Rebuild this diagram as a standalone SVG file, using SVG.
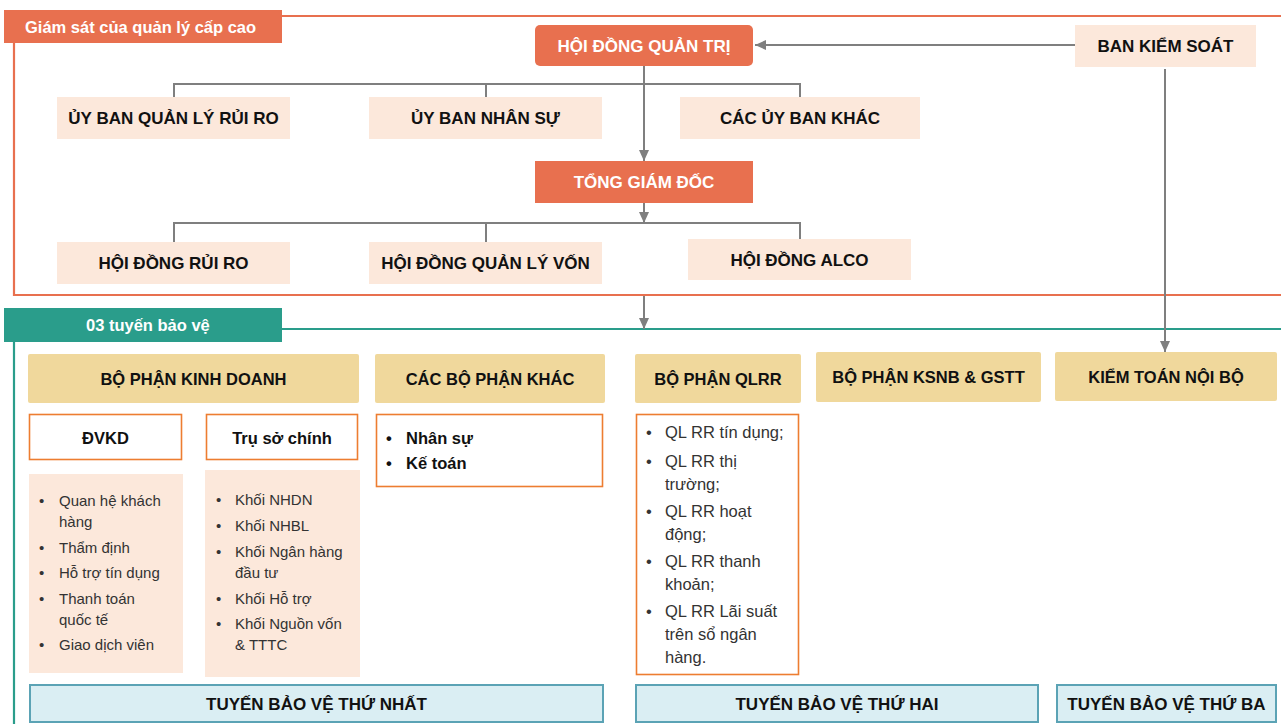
<svg xmlns="http://www.w3.org/2000/svg" width="1281" height="724" viewBox="0 0 1281 724">
<defs>
<marker id="arr" markerUnits="userSpaceOnUse" markerWidth="12" markerHeight="10" refX="11" refY="5" orient="auto">
<path d="M0,0 L11,5 L0,10 Z" fill="#7F7F7F"/>
</marker>
<style>
text{font-family:"Liberation Sans",Arial,sans-serif}
.red{fill:#E8704F}
.peach{fill:#FCE8DB}
.gold{fill:#F0D89C}
.obox{fill:#FFFFFF;stroke:#ED7D31;stroke-width:1.6}
.blue{fill:#DAEEF3;stroke:#5BA3B5;stroke-width:2}
.wt{fill:#FFFFFF;font-weight:bold;font-size:17px;text-anchor:middle}
.bt{fill:#111111;font-weight:bold;font-size:17px;text-anchor:middle}
.ht{fill:#111111;font-weight:bold;font-size:16.5px;text-anchor:middle}
.lt{fill:#333333;font-size:15px}
.qt{fill:#333333;font-size:16.5px}
.kt{fill:#111111;font-weight:bold;font-size:16.5px}
.conn{fill:none;stroke:#7F7F7F;stroke-width:2}
</style>
</defs>
<rect width="1281" height="724" fill="#FFFFFF"/>

<!-- Frames -->
<g id="frame-top">
<path d="M282,16 H1281 M14,43 V295 H1281" fill="none" stroke="#E8704F" stroke-width="2.2"/>
<rect x="4" y="10" width="278" height="33" class="red"/>
<text x="25" y="32.5" fill="#FFFFFF" font-weight="bold" font-size="16.5">Giám sát của quản lý cấp cao</text>
</g>
<g id="frame-bottom">
<path d="M282,329 H1281 M14,342 V724" fill="none" stroke="#2A9D8B" stroke-width="2.2"/>
<rect x="4" y="308" width="278" height="34" fill="#2A9D8B"/>
<text x="86" y="331" fill="#FFFFFF" font-weight="bold" font-size="16.5">03 tuyến bảo vệ</text>
</g>

<!-- Connectors -->
<g id="connectors">
<line x1="1075" y1="45" x2="755" y2="45" class="conn" marker-end="url(#arr)"/>
<line x1="644" y1="66" x2="644" y2="161" class="conn" marker-end="url(#arr)"/>
<path d="M174,97 V84 H800 V97 M486,84 V97" class="conn"/>
<line x1="644" y1="203" x2="644" y2="223" class="conn" marker-end="url(#arr)"/>
<path d="M174,242 V223 H800 V240 M486,223 V242" class="conn"/>
<line x1="644" y1="296" x2="644" y2="329" class="conn" marker-end="url(#arr)"/>
<line x1="1165" y1="69" x2="1165" y2="352" class="conn" marker-end="url(#arr)"/>
</g>

<!-- Top nodes -->
<g id="hdqt">
<rect x="535" y="25" width="218" height="41" rx="5" class="red"/>
<text x="644" y="52" class="wt">HỘI ĐỒNG QUẢN TRỊ</text>
</g>
<g id="bks">
<rect x="1075" y="25" width="181" height="42" class="peach"/>
<text x="1165.5" y="52" class="bt">BAN KIỂM SOÁT</text>
</g>
<g id="ub-qlrr">
<rect x="57" y="97" width="233" height="42" class="peach"/>
<text x="173.5" y="124" class="bt">ỦY BAN QUẢN LÝ RỦI RO</text>
</g>
<g id="ub-ns">
<rect x="369" y="97" width="233" height="42" class="peach"/>
<text x="485.5" y="124" class="bt">ỦY BAN NHÂN SỰ</text>
</g>
<g id="ub-khac">
<rect x="680" y="97" width="240" height="42" class="peach"/>
<text x="800" y="124" class="bt">CÁC ỦY BAN KHÁC</text>
</g>
<g id="tgd">
<rect x="535" y="161" width="218" height="42" class="red"/>
<text x="644" y="188" class="wt">TỔNG GIÁM ĐỐC</text>
</g>
<g id="hd-rr">
<rect x="57" y="242" width="233" height="42" class="peach"/>
<text x="173.5" y="269" class="bt">HỘI ĐỒNG RỦI RO</text>
</g>
<g id="hd-qlv">
<rect x="369" y="242" width="233" height="42" class="peach"/>
<text x="485.5" y="269" class="bt">HỘI ĐỒNG QUẢN LÝ VỐN</text>
</g>
<g id="hd-alco">
<rect x="688" y="239" width="223" height="41" class="peach"/>
<text x="799.5" y="265.5" class="bt">HỘI ĐỒNG ALCO</text>
</g>

<!-- Lines of defence -->
<g id="bp-kd">
<rect x="28" y="354" width="331" height="49" rx="2" class="gold"/>
<text x="193.5" y="384.5" class="ht">BỘ PHẬN KINH DOANH</text>
</g>
<g id="dvkd">
<rect x="29.5" y="414.5" width="152" height="45" class="obox"/>
<text x="105.5" y="443.5" class="ht">ĐVKD</text>
</g>
<g id="tru-so">
<rect x="206.5" y="414.5" width="151" height="45" class="obox"/>
<text x="282" y="443.5" class="ht">Trụ sở chính</text>
</g>
<g id="dvkd-list">
<rect x="29" y="474" width="154" height="199" class="peach"/>
<g class="lt">
<text x="39" y="506">•</text><text x="59" y="506">Quan hệ khách</text>
<text x="59" y="527">hàng</text>
<text x="39" y="553">•</text><text x="59" y="553">Thẩm định</text>
<text x="39" y="578">•</text><text x="59" y="578">Hỗ trợ tín dụng</text>
<text x="39" y="604">•</text><text x="59" y="604">Thanh toán</text>
<text x="59" y="625">quốc tế</text>
<text x="39" y="650">•</text><text x="59" y="650">Giao dịch viên</text>
</g>
</g>
<g id="tru-so-list">
<rect x="205" y="470" width="155" height="207" class="peach"/>
<g class="lt">
<text x="216" y="505">•</text><text x="235" y="505">Khối NHDN</text>
<text x="216" y="531">•</text><text x="235" y="531">Khối NHBL</text>
<text x="216" y="557">•</text><text x="235" y="557">Khối Ngân hàng</text>
<text x="235" y="578">đầu tư</text>
<text x="216" y="604">•</text><text x="235" y="604">Khối Hỗ trợ</text>
<text x="216" y="629">•</text><text x="235" y="629">Khối Nguồn vốn</text>
<text x="235" y="650">&amp; TTTC</text>
</g>
</g>
<g id="bp-khac">
<rect x="375" y="354" width="230" height="49" rx="2" class="gold"/>
<text x="490" y="384.5" class="ht">CÁC BỘ PHẬN KHÁC</text>
</g>
<g id="bp-khac-list">
<rect x="376.5" y="414.5" width="226" height="72" class="obox"/>
<g class="kt">
<text x="386" y="444">•</text><text x="406" y="444">Nhân sự</text>
<text x="386" y="469">•</text><text x="406" y="469">Kế toán</text>
</g>
</g>
<g id="bp-qlrr">
<rect x="635" y="354" width="166" height="49" rx="2" class="gold"/>
<text x="718" y="384.5" class="ht">BỘ PHẬN QLRR</text>
</g>
<g id="qlrr-list">
<rect x="636.5" y="414.5" width="162" height="260" class="obox"/>
<g class="qt">
<text x="646" y="438">•</text><text x="665" y="438">QL RR tín dụng;</text>
<text x="646" y="467">•</text><text x="665" y="467">QL RR thị</text>
<text x="665" y="490">trường;</text>
<text x="646" y="517">•</text><text x="665" y="517">QL RR hoạt</text>
<text x="665" y="540">động;</text>
<text x="646" y="567">•</text><text x="665" y="567">QL RR thanh</text>
<text x="665" y="590">khoản;</text>
<text x="646" y="617">•</text><text x="665" y="617">QL RR Lãi suất</text>
<text x="665" y="640">trên sổ ngân</text>
<text x="665" y="663">hàng.</text>
</g>
</g>
<g id="bp-ksnb">
<rect x="816" y="352" width="225" height="50" rx="2" class="gold"/>
<text x="928.5" y="383" class="ht">BỘ PHẬN KSNB &amp; GSTT</text>
</g>
<g id="ktnb">
<rect x="1055" y="352" width="222" height="49" rx="2" class="gold"/>
<text x="1166" y="383" class="ht">KIỂM TOÁN NỘI BỘ</text>
</g>
<g id="tuyen-1">
<rect x="30" y="685" width="573" height="37" class="blue"/>
<text x="316.5" y="709.5" class="bt">TUYẾN BẢO VỆ THỨ NHẤT</text>
</g>
<g id="tuyen-2">
<rect x="636" y="685" width="402" height="37" class="blue"/>
<text x="837" y="709.5" class="bt">TUYẾN BẢO VỆ THỨ HAI</text>
</g>
<g id="tuyen-3">
<rect x="1057" y="685" width="219" height="37" class="blue"/>
<text x="1166.5" y="709.5" class="bt">TUYẾN BẢO VỆ THỨ BA</text>
</g>
</svg>
